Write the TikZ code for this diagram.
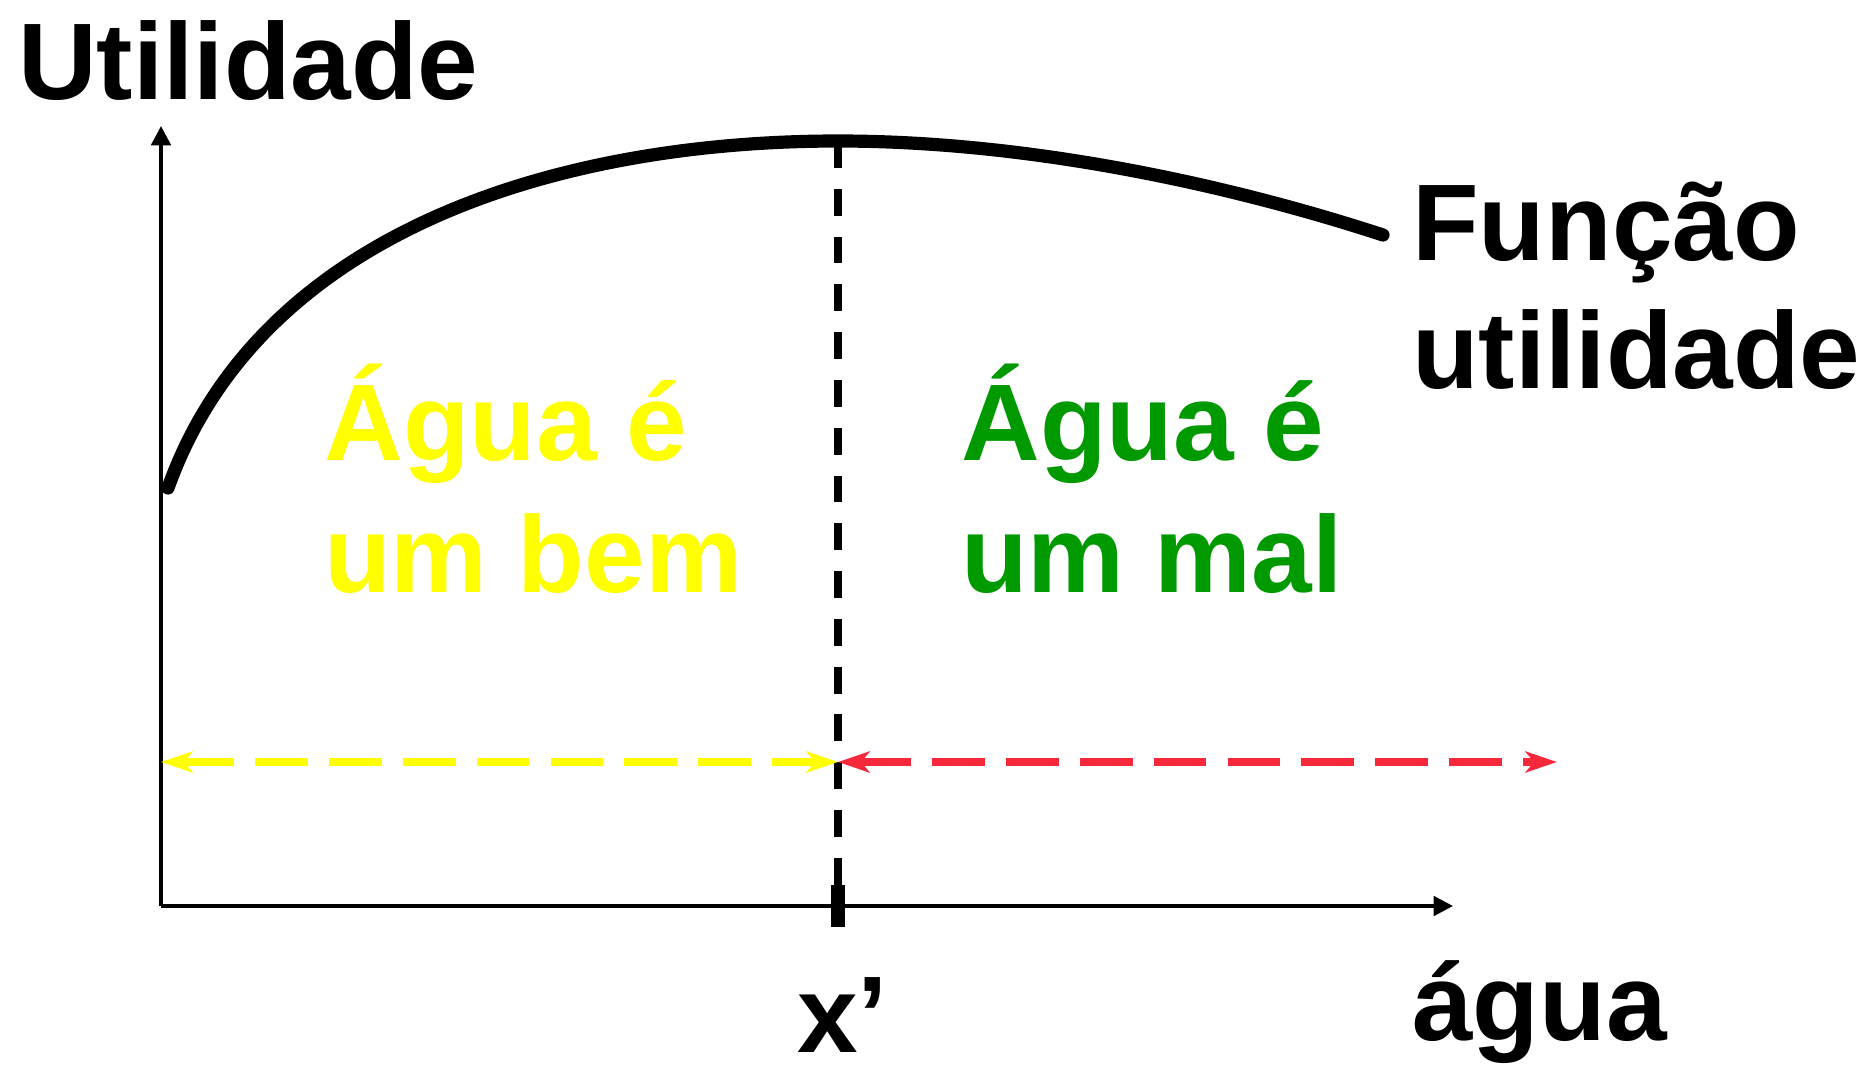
\documentclass[tikz,border=0pt]{standalone}
\usepackage{fontspec}
\setmainfont{Liberation Sans}
\usetikzlibrary{arrows.meta}
\definecolor{bemyellow}{RGB}{255,255,0}
\definecolor{malgreen}{RGB}{0,153,0}
\definecolor{malred}{RGB}{245,40,60}
\tikzstyle{biglabel}=[inner sep=0pt, anchor=base west, align=left,
        font=\fontsize{62}{74.8}\selectfont\bfseries]
\tikzstyle{axis}=[line width=2.2pt, -{Triangle[length=11pt,width=11pt]}]
\tikzstyle{rangearrow}=[line width=4.2pt, dash pattern=on 30pt off 12pt,
        {Stealth[length=18pt,width=12pt,inset=5pt]}-{Stealth[length=18pt,width=12pt,inset=5pt]}]

\begin{document}
\begin{tikzpicture}[x=0.02cm, y=-0.02cm]
	\useasboundingbox (0,0) rectangle (1874,1068);

	\coordinate (O) at (161,906);
	\coordinate (ytop) at (161,126);
	\coordinate (xend) at (1453,906);
	\coordinate (ustart) at (168,488);
	\coordinate (upeak) at (838,141);
	\coordinate (uend) at (1383,235);
	\coordinate (xmark) at (838,906);
	\coordinate (bemleft) at (161,762);
	\coordinate (xmid) at (838,762);
	\coordinate (malright) at (1557,762);

	\node (ylabel) [biglabel] at (18,100) {Utilidade};
	\node (fnlabel) [biglabel, font=\fontsize{62}{72.6}\selectfont\bfseries] at (1412,388) {Função\\utilidade};
	\node (bem) [biglabel, text=bemyellow] at (324,592) {Água é\\um bem};
	\node (mal) [biglabel, text=malgreen] at (961,592) {Água é\\um mal};
	\node (xprime) [biglabel] at (797,1052) {x’};
	\node (xlabel) [biglabel] at (1412,1040) {água};

	\draw[axis] (O) -- (ytop);
	\draw[axis] (O) -- (xend);

	\draw[line width=7.5pt, line cap=round] (ustart) .. controls (260,230) and (560,141) .. (upeak)
        .. controls (1030,141) and (1230,185) .. (uend);

	\draw[line width=4pt, dash pattern=on 15.3pt off 11.9pt] (upeak) -- (xmark);
	\draw[line width=7.9pt] ([yshift=12pt]xmark) -- ([yshift=-12pt]xmark);

	\draw[rangearrow, bemyellow] (bemleft) -- (xmid);
	\draw[rangearrow, malred] (xmid) -- (malright);

\end{tikzpicture}
\end{document}
